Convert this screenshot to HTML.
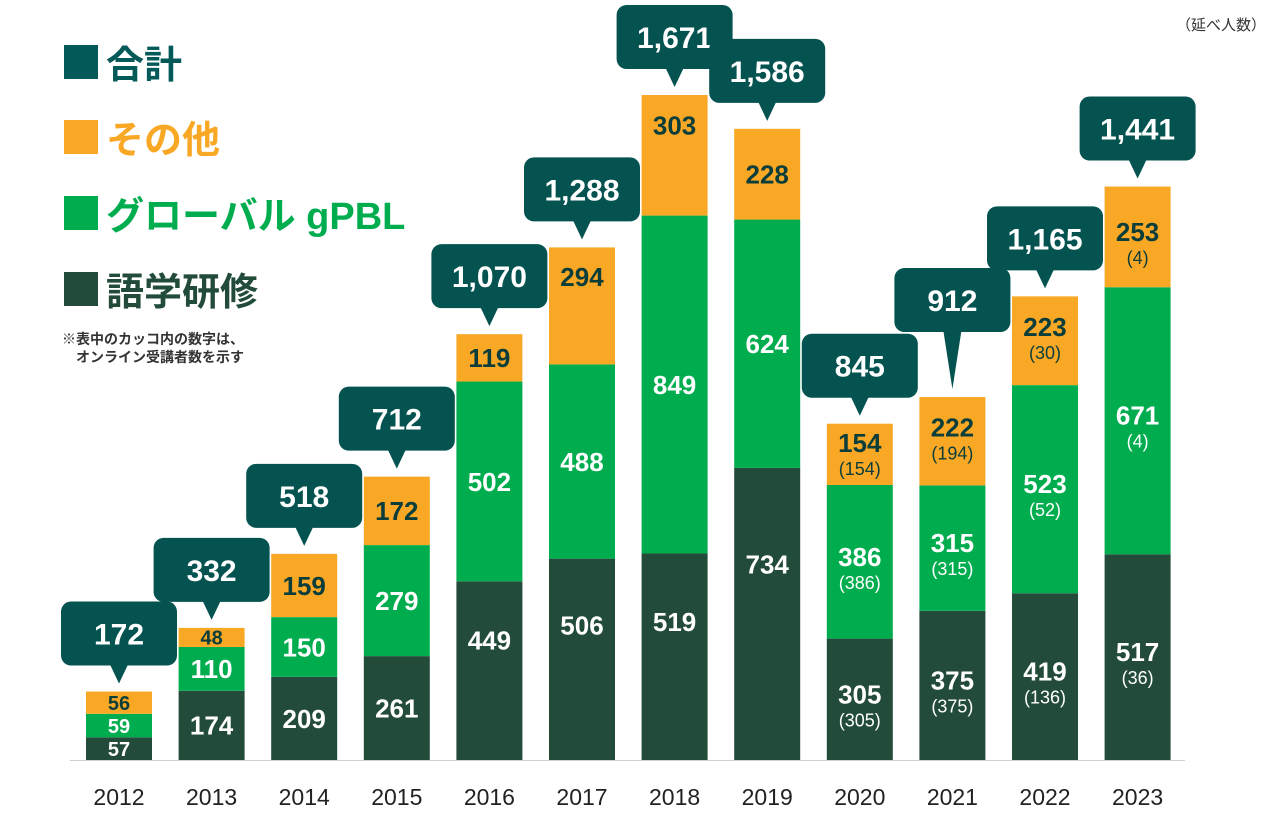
<!DOCTYPE html>
<html><head><meta charset="utf-8"><style>
body{margin:0;background:#fff;width:1278px;height:836px;overflow:hidden;font-family:"Liberation Sans","Noto Sans CJK JP",sans-serif}
svg{position:absolute;left:0;top:0}
</style></head><body>
<svg id="c" width="1278" height="836" xmlns="http://www.w3.org/2000/svg"></svg>
<script>
const years=["2012","2013","2014","2015","2016","2017","2018","2019","2020","2021","2022","2023"];
const language=[57,174,209,261,449,506,519,734,305,375,419,517];
const gpbl=[59,110,150,279,502,488,849,624,386,315,523,671];
const other=[56,48,159,172,119,294,303,228,154,222,223,253];
const langOnline=[null,null,null,null,null,null,null,null,305,375,136,36];
const gpblOnline=[null,null,null,null,null,null,null,null,386,315,52,4];
const otherOnline=[null,null,null,null,null,null,null,null,154,194,30,4];
const totals=["172","332","518","712","1,070","1,288","1,671","1,586","845","912","1,165","1,441"];

const svg=document.getElementById('c');
const NS='http://www.w3.org/2000/svg';
const base=760, scale=665/1671, bw=66;
const xC=i=>119+i*92.6;
const yV=v=>base-v*scale;
function mk(tag,attrs,parent){const e=document.createElementNS(NS,tag);for(const k in attrs)e.setAttribute(k,attrs[k]);(parent||svg).appendChild(e);return e;}
const F='"Liberation Sans","Noto Sans CJK JP",sans-serif';

// legend
const leg=[["合計","#045a59",79],["その他","#f9a825",154],["グローバル gPBL","#00ad4e",230],["語学研修","#234b3a",306]];
leg.forEach(l=>{
 const g=mk('g',{});
 
 
 mk('rect',{x:64,y:l[2]-34,width:34,height:34,fill:l[1]},g);
 const t=mk('text',{x:106,y:l[2]-1,fill:l[1],'font-size':38,'font-weight':'bold','font-family':F},g);t.textContent=l[0];
});
const n1=mk('text',{x:62,y:344,'font-size':14,'font-weight':'bold',fill:'#333','font-family':F});n1.textContent="※表中のカッコ内の数字は、";

const n2=mk('text',{x:76,y:362,'font-size':14,'font-weight':'bold',fill:'#333','font-family':F});n2.textContent="オンライン受講者数を示す";

const u=mk('text',{x:1266,y:30,'font-size':15,fill:'#333','text-anchor':'end','font-family':F});u.textContent="（延べ人数）";


// axis
const ax=mk('line',{x1:70,y1:base+0.5,x2:1185,y2:base+0.5,stroke:'#d0d0d0','stroke-width':1});


function label(cx,y0,y1,v,on,col,kind){
 const h=y0-y1;
 let mid=(y0+y1)/2;
 if(kind==='lang'&&h>150&&on==null) mid=y1+h*0.33;
 if(kind==='other'&&h>110) mid=y1+h*0.25;
 if(on!=null&&h<100) mid=y1+h*0.4;
 const fs=h<30?20:26;
 const t=mk('text',{x:cx,y:on!=null?mid+4:mid+fs*0.36,'text-anchor':'middle','font-size':fs,'font-weight':'bold',fill:col,'font-family':F});
 t.textContent=v;
 
 if(on!=null){const p=mk('text',{x:cx,y:mid+27,'text-anchor':'middle','font-size':18,fill:col,'font-family':F});p.textContent="("+on+")";
 }
}
years.forEach((yr,i)=>{
 const cx=xC(i), x=cx-bw/2;
 const segs=[[language[i],langOnline[i],'#234b3a','#fff','bar-language','lang'],[gpbl[i],gpblOnline[i],'#00ad4e','#fff','bar-gpbl','gpbl'],[other[i],otherOnline[i],'#f9a825','#0b3d3a','bar-other','other']];
 let cum=0;
 segs.forEach(s=>{
  const y0=yV(cum), y1=yV(cum+s[0]);
  const r=mk('rect',{x:x,y:y1,width:bw,height:y0-y1,fill:s[2]});
  
  label(cx,y0,y1,s[0],s[1],s[3],s[5]);
  cum+=s[0];
 });
 const top=yV(cum);
 const yl=mk('text',{x:cx,y:805,'text-anchor':'middle','font-size':23,fill:'#222','font-family':F});yl.textContent=yr;
 
 // callout
 const w=116,h=64;
 const tip=top-8;
 const bb=yr==="2021"?tip-57:tip-18;
 const g=mk('g',{});
 
 mk('rect',{x:cx-w/2,y:bb-h,width:w,height:h,rx:10,fill:'#045351'},g);
 mk('path',{d:`M${cx-9} ${bb-1} L${cx+9} ${bb-1} L${cx} ${tip} Z`,fill:'#045351'},g);
 const tt=mk('text',{x:cx,y:bb-h/2+11,'text-anchor':'middle','font-size':30,'font-weight':'bold',fill:'#fff','font-family':F},g);
 tt.textContent=totals[i];
});
</script>
</body></html>
